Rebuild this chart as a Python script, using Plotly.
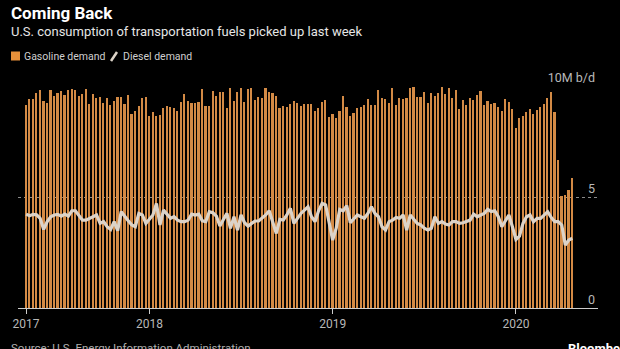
import plotly.graph_objects as go
import pandas as pd

# ---------------- data ----------------
week_start = "2017-05-05"
n_weeks = 156
dates = pd.date_range(week_start, periods=n_weeks, freq="7D")

gasoline = [
    9.14, 9.40, 9.43, 9.70, 9.82, 9.31, 9.25, 9.82, 9.56, 9.67, 9.76, 9.59, 9.82, 9.85, 9.82, 9.55,
    9.64, 9.86, 9.19, 9.63, 9.45, 9.52, 9.25, 9.47, 9.14, 9.32, 9.49, 9.52, 9.19, 9.59, 8.74, 8.87, 9.10,
    9.45, 9.49, 8.65, 8.81, 8.65, 8.71, 9.02, 9.10, 9.07, 9.01, 8.87, 9.29, 9.64, 9.34, 9.22, 9.22,
    9.29, 9.86, 9.11, 9.11, 9.79, 9.55, 9.71, 9.71, 9.00, 9.92, 9.34, 9.74, 9.92, 9.29, 9.85, 9.92,
    9.37, 9.52, 9.45, 9.89, 9.74, 9.67, 9.56, 9.00, 9.10, 9.07, 9.19, 9.32, 9.25, 9.10, 9.17, 9.17,
    9.17, 8.87, 9.02, 9.26, 9.37, 8.62, 8.74, 8.57, 8.87, 9.56, 9.07, 8.66, 8.80, 9.00, 9.07, 9.14, 9.40,
    9.14, 9.14, 9.82, 9.45, 9.40, 9.22, 9.89, 9.14, 9.45, 9.41, 9.45, 9.89, 9.94, 9.49, 9.49, 9.74,
    9.22, 9.67, 9.56, 9.67, 9.94, 9.64, 9.89, 9.47, 9.82, 8.95, 9.37, 9.14, 9.47, 9.37, 9.59, 9.79, 9.14,
    9.32, 9.19, 9.22, 9.04, 8.87, 9.41, 9.29, 8.95, 8.12, 8.54, 8.65, 8.81, 8.95, 8.74, 8.92, 9.04,
    9.19, 9.45, 9.71, 8.84, 6.67, 5.05, 5.09, 5.32, 5.84,
]

diesel = [
    4.23, 4.16, 4.22, 4.20, 4.04, 3.54, 3.89, 4.11, 4.19, 4.22,
    4.14, 4.23, 4.14, 4.38, 4.38, 4.17, 3.96, 3.96, 4.04, 4.08,
    4.19, 3.81, 3.89, 3.66, 3.54, 3.89, 3.48, 4.34, 4.11, 3.93,
    3.74, 3.66, 4.26, 4.19, 3.81, 3.99, 4.19, 4.71, 3.74, 4.41,
    4.23, 4.04, 4.11, 3.96, 3.89, 3.89, 3.96, 4.23, 4.19, 4.23,
    3.93, 3.89, 4.34, 4.29, 4.14, 3.69, 3.99, 4.26, 3.59, 4.11,
    3.51, 4.19, 3.84, 3.69, 3.81, 3.92, 3.92, 4.04, 4.19, 4.38,
    3.89, 3.36, 3.99, 3.96, 4.19, 4.49, 3.81, 4.04, 4.26, 4.41,
    4.56,
    4.11, 3.89, 4.38, 4.71, 4.64, 3.81, 3.06, 3.59, 4.44, 4.38,
    4.61, 3.84, 4.04, 4.19, 4.11, 4.04, 4.26, 4.56, 4.26, 4.11,
    3.66, 3.51, 3.89, 3.96, 4.08, 4.04, 4.19, 3.51, 4.19, 3.99,
    3.81, 3.74, 3.59, 3.51, 3.59, 4.11, 3.81, 3.89, 3.78, 3.74,
    3.89, 3.89, 3.81, 3.84, 3.89, 3.96, 4.23, 4.11, 4.19, 4.26,
    4.44, 4.34, 4.38, 4.11, 3.66, 3.96, 4.19, 3.66, 3.09, 3.24,
    3.81, 4.11, 4.19, 3.89, 4.04, 4.04, 4.19, 4.34, 4.08, 3.89,
    3.89, 3.74, 2.84, 3.06, 3.14,
]

x_tick_vals = ["2017-05-05", "2018-01-05", "2019-01-04", "2020-01-03"]
x_tick_text = ["2017", "2018", "2019", "2020"]
y_tick_vals = [0, 5, 10]
y_tick_text = ["0", "5", "10M b/d"]

title = "Coming Back"
subtitle = "U.S. consumption of transportation fuels picked up last week"
source = "Source: U.S. Energy Information Administration"

# ---------------- style ----------------
W, H = 620, 349
ML, MR, MT, MB = 18, 22, 86, 41
PW, PH = W - ML - MR, H - MT - MB
BAR = "#d38a45"
SWATCH = "#e8913a"
LINE = "#dcd3c8"
FONT = "Roboto"


def px_x(p):
    return (p - ML) / PW


def px_y(p):
    return (H - MB - p) / PH


fig = go.Figure()
fig.add_trace(go.Bar(
    x=dates, y=gasoline, name="Gasoline demand",
    marker=dict(color=BAR, line=dict(width=0)),
    width=3.3 * 86400000, showlegend=False,
))
fig.add_trace(go.Scatter(
    x=dates, y=diesel, name="Diesel demand", mode="lines",
    line=dict(color=LINE, width=3.2), showlegend=False,
))

annotations = [
    dict(text="<b>" + title + "</b>", x=px_x(9), y=px_y(13), xanchor="left", yanchor="middle",
         font=dict(size=17, color="#ffffff", family=FONT)),
    dict(text=subtitle, x=px_x(9), y=px_y(31), xanchor="left", yanchor="middle",
         font=dict(size=13, color="#e6e6e6", family=FONT)),
    dict(text="Gasoline demand", x=px_x(22), y=px_y(56), xanchor="left", yanchor="middle",
         font=dict(size=10.5, color="#cfcfcf", family=FONT)),
    dict(text="Diesel demand", x=px_x(121), y=px_y(56), xanchor="left", yanchor="middle",
         font=dict(size=10.5, color="#cfcfcf", family=FONT)),
    dict(text=source, x=px_x(9), y=px_y(339), xanchor="left", yanchor="top",
         font=dict(size=11.5, color="#b0b0b0", family=FONT)),
    dict(text="<b>Bloomberg</b>", x=px_x(566), y=px_y(339), xanchor="left", yanchor="top",
         font=dict(size=13, color="#ffffff", family=FONT)),
]
for a in annotations:
    a.update(xref="paper", yref="paper", showarrow=False)

shapes = [
    dict(type="rect", xref="paper", yref="paper",
         x0=px_x(11), x1=px_x(20), y0=px_y(51.5), y1=px_y(60.5),
         fillcolor=SWATCH, line=dict(width=0)),
    dict(type="line", xref="paper", yref="paper",
         x0=px_x(111), x1=px_x(117), y0=px_y(61), y1=px_y(52),
         line=dict(color=LINE, width=2.5)),
]

fig.update_layout(
    width=W, height=H,
    margin=dict(l=ML, r=MR, t=MT, b=MB, pad=0),
    paper_bgcolor="#000000", plot_bgcolor="#000000",
    bargap=0, barmode="overlay",
    annotations=annotations, shapes=shapes,
    showlegend=False,
    xaxis=dict(
        type="date",
        range=["2017-04-19", "2020-06-14"],
        tickvals=x_tick_vals, ticktext=x_tick_text,
        showgrid=False, zeroline=False,
        showline=True, linecolor="#cccccc", linewidth=1,
        ticks="outside", ticklen=5, tickcolor="#cccccc", tickwidth=1,
        tickfont=dict(size=12, color="#b8b8b8", family=FONT),
        fixedrange=True,
    ),
    yaxis=dict(
        side="right", range=[0, 10],
        tickvals=y_tick_vals, ticktext=y_tick_text,
        ticklabelposition="inside top", ticklabeloverflow="allow",
        ticks="", showgrid=True, gridcolor="#8a8a8a", griddash="dot", gridwidth=1,
        zeroline=False, showline=False,
        tickfont=dict(size=12.5, color="#b8b8b8", family=FONT),
        fixedrange=True,
    ),
)

fig.write_html("out.html")
